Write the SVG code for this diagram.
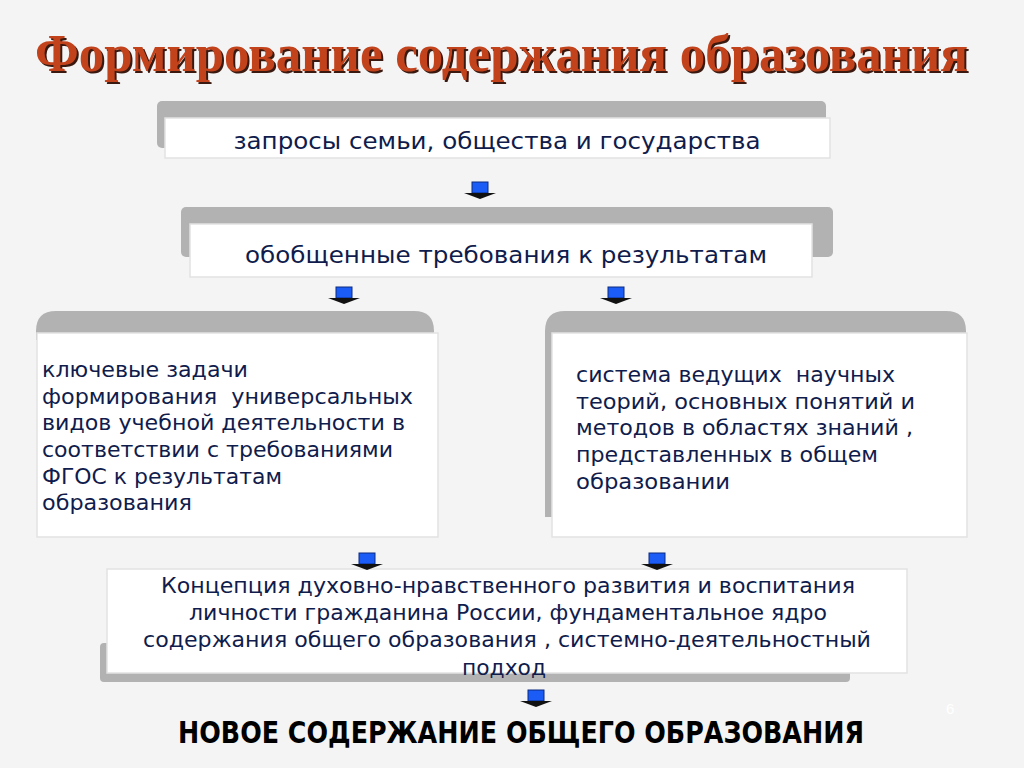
<svg xmlns="http://www.w3.org/2000/svg" width="1024" height="768" viewBox="0 0 1024 768">
<defs>
<style>
.bg{fill:#f4f4f4}
.gray{fill:#b2b2b2}
.box{fill:#ffffff;stroke:#e2e2e2;stroke-width:1.5}
.t{font-family:"DejaVu Sans",Verdana,sans-serif;fill:#101c4c;font-size:23px;white-space:pre}
.t5{font-family:"DejaVu Sans",Verdana,sans-serif;fill:#101c4c;font-size:22px;white-space:pre}
.wide{font-family:"DejaVu Sans",Verdana,sans-serif;fill:#101c4c;font-size:21.5px;white-space:pre}
.title{font-family:"Liberation Serif","Times New Roman",serif;font-weight:bold;font-size:52px}
.bottom{font-family:"DejaVu Sans",Verdana,sans-serif;font-weight:bold;font-size:31px;fill:#000}
</style>
<g id="arrowShape">
<rect x="-8" y="0" width="16" height="11" fill="#1a5cf5" stroke="#0a2a80" stroke-width="1"/>
<polygon points="-16,11 16,11 0,17" fill="#111"/>
</g>
</defs>
<rect class="bg" x="0" y="0" width="1024" height="768"/>

<g id="title">
<text class="title" x="37" y="73" fill="#3a1a10" textLength="933" lengthAdjust="spacingAndGlyphs">Формирование содержания образования</text>
<text class="title" x="35" y="71" fill="#c2421c" textLength="933" lengthAdjust="spacingAndGlyphs">Формирование содержания образования</text>
</g>

<g id="node1">
<rect class="gray" x="157" y="101" width="669" height="47" rx="5"/>
<rect class="box" x="165" y="118" width="665" height="40"/>
<text class="t" x="497" y="149" text-anchor="middle" textLength="527" lengthAdjust="spacingAndGlyphs">запросы семьи, общества и государства</text>
</g>

<g id="node2">
<rect class="gray" x="181" y="207" width="652" height="50" rx="5"/>
<rect class="box" x="190" y="224" width="622" height="53"/>
<text class="t" x="506" y="263" text-anchor="middle" textLength="522" lengthAdjust="spacingAndGlyphs">обобщенные требования к результатам</text>
</g>

<g id="node3">
<path class="gray" d="M36,340 L36,331 Q36,311 56,311 L414,311 Q434,311 434,331 L434,340 Z"/>
<rect class="box" x="37" y="333" width="401" height="204"/>
<text class="wide">
<tspan x="42" y="377" textLength="206" lengthAdjust="spacingAndGlyphs">ключевые задачи</tspan>
<tspan x="42" y="404" textLength="371" lengthAdjust="spacingAndGlyphs">формирования  универсальных</tspan>
<tspan x="42" y="430" textLength="363" lengthAdjust="spacingAndGlyphs">видов учебной деятельности в</tspan>
<tspan x="42" y="457" textLength="351" lengthAdjust="spacingAndGlyphs">соответствии с требованиями</tspan>
<tspan x="42" y="484" textLength="240" lengthAdjust="spacingAndGlyphs">ФГОС к результатам</tspan>
<tspan x="42" y="510" textLength="150" lengthAdjust="spacingAndGlyphs">образования</tspan>
</text>
</g>

<g id="node4">
<path class="gray" d="M545,517 L545,331 Q545,311 565,311 L946,311 Q966,311 966,331 L966,340 L552,340 L552,517 Z"/>
<rect class="box" x="552" y="333" width="415" height="204"/>
<text class="wide">
<tspan x="576" y="382" textLength="319" lengthAdjust="spacingAndGlyphs">система ведущих  научных</tspan>
<tspan x="576" y="409" textLength="339" lengthAdjust="spacingAndGlyphs">теорий, основных понятий и</tspan>
<tspan x="576" y="435" textLength="337" lengthAdjust="spacingAndGlyphs">методов в областях знаний ,</tspan>
<tspan x="576" y="462" textLength="302" lengthAdjust="spacingAndGlyphs">представленных в общем</tspan>
<tspan x="576" y="489" textLength="154" lengthAdjust="spacingAndGlyphs">образовании</tspan>
</text>
</g>

<g id="node5">
<rect class="gray" x="100" y="643" width="750" height="39" rx="4"/>
<rect class="box" x="107" y="569" width="800" height="104"/>
<text class="t5">
<tspan x="161" y="593" textLength="694" lengthAdjust="spacingAndGlyphs">Концепция духовно-нравственного развития и воспитания</tspan>
<tspan x="189" y="620" textLength="638" lengthAdjust="spacingAndGlyphs">личности гражданина России, фундаментальное ядро</tspan>
<tspan x="143" y="647" textLength="728" lengthAdjust="spacingAndGlyphs">содержания общего образования , системно-деятельностный</tspan>
<tspan x="462" y="675" textLength="84" lengthAdjust="spacingAndGlyphs">подход</tspan>
</text>
</g>

<g id="result">
<text class="bottom" x="521" y="743" text-anchor="middle" textLength="686" lengthAdjust="spacingAndGlyphs">НОВОЕ СОДЕРЖАНИЕ ОБЩЕГО ОБРАЗОВАНИЯ</text>
</g>
<text x="946" y="714" font-family="Liberation Sans,Arial,sans-serif" font-size="15" fill="#ffffff">6</text>

<g id="connectors">
<use href="#arrowShape" x="480" y="182"/>
<use href="#arrowShape" x="344" y="287"/>
<use href="#arrowShape" x="616" y="287"/>
<use href="#arrowShape" x="367" y="553"/>
<use href="#arrowShape" x="657" y="553"/>
<use href="#arrowShape" x="536" y="690"/>
</g>
</svg>
